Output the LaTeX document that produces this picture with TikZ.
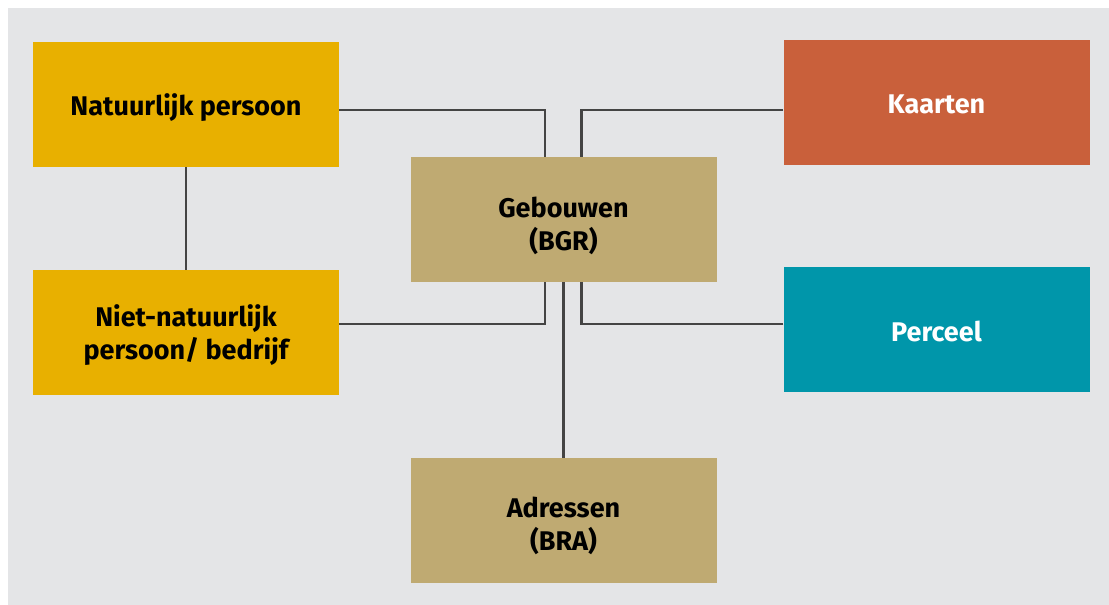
\documentclass[tikz,border=0pt]{standalone}
\usepackage{fontspec}
\setmainfont{Fira Sans}
\definecolor{bg}{HTML}{E4E5E7}
\definecolor{geel}{HTML}{E8B000}
\definecolor{rood}{HTML}{C9603B}
\definecolor{blauw}{HTML}{0096AA}
\definecolor{beige}{HTML}{BFAA72}
\definecolor{lijn}{HTML}{444444}
\begin{document}
\begin{tikzpicture}[x=1pt,y=-1pt,
  box/.style={rectangle, minimum width=306pt, minimum height=125pt, inner sep=0pt},
  lbl/.style={align=center, inner sep=0pt, font=\fontsize{27}{33}\selectfont\bfseries},
  conn/.style={draw=lijn, line width=2.4pt}]
\useasboundingbox (0,0) rectangle (1109,605);
\fill[white] (0,0) rectangle (1109,605);
\fill[bg] (8,8) rectangle (1109,605);
\node[box, fill=geel, label={[lbl, yshift=-3pt]center:Natuurlijk persoon}] (np) at (186,104.5) {};
\node[box, fill=geel, label={[lbl, yshift=-3pt]center:Niet-natuurlijk\\persoon/ bedrijf}] (nnp) at (186,332.5) {};
\node[box, fill=beige, label={[lbl, yshift=-6pt]center:Gebouwen\\(BGR)}] (geb) at (563.5,219.5) {};
\node[box, fill=beige, label={[lbl, yshift=-5pt]center:Adressen\\(BRA)}] (adr) at (563.5,520.5) {};
\node[box, fill=rood, label={[lbl, text=white, yshift=-2pt]center:Kaarten}] (kaa) at (936.5,102.5) {};
\node[box, fill=blauw, label={[lbl, text=white, yshift=-2pt]center:Perceel}] (per) at (936.5,329) {};
\draw[conn] (np.east |- 0,110) -| ([xshift=-18.5pt]geb.north);
\draw[conn] (kaa.west |- 0,110) -| ([xshift=18pt]geb.north);
\draw[conn] (nnp.east |- 0,324) -| ([xshift=-18.5pt]geb.south);
\draw[conn] (per.west |- 0,324) -| ([xshift=18pt]geb.south);
\draw[conn] (geb.south) -- (adr.north);
\draw[conn] (np.south) -- (nnp.north);
\end{tikzpicture}
\end{document}
